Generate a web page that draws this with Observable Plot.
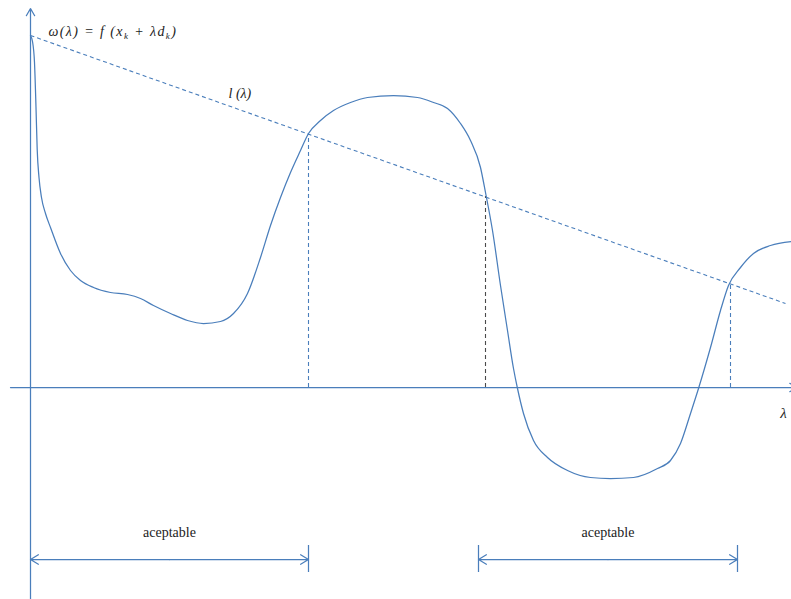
<!DOCTYPE html>
<html>
<head>
<meta charset="utf-8">
<script src="https://cdn.jsdelivr.net/npm/d3@7"></script>
<script src="https://cdn.jsdelivr.net/npm/@observablehq/plot@0.6"></script>
<style>
  body { margin: 0; background: #fff; }
  #chart svg { display: block; }
  #chart svg text { font-family: "Liberation Serif", "DejaVu Serif", serif; }
</style>
</head>
<body>
<div id="chart"></div>
<script>
// ω(λ) = f(x_k + λ d_k) sampled along the step length λ
const curveLambda = [0, 0.02, 0.04, 0.055, 0.067, 0.085, 0.11, 0.15, 0.20, 0.30, 0.40, 0.50, 0.63, 0.80, 0.97, 1.10, 1.23, 1.40, 1.57, 1.73, 1.90, 2.03, 2.17, 2.30, 2.40, 2.50, 2.60, 2.70, 2.78, 2.90, 3.03, 3.20, 3.37, 3.63, 3.87, 4.03, 4.17, 4.30, 4.40, 4.50, 4.55, 4.62, 4.70, 4.77, 4.83, 4.87, 4.93, 5.03, 5.17, 5.37, 5.60, 5.80, 6.03, 6.27, 6.40, 6.50, 6.60, 6.68, 6.80, 6.90, 6.98, 7.10, 7.23, 7.40, 7.61];
const curveOmega  = [3.52, 3.46, 3.25, 2.80, 2.38, 2.10, 1.90, 1.74, 1.60, 1.34, 1.17, 1.07, 1.00, 0.95, 0.93, 0.89, 0.82, 0.74, 0.67, 0.64, 0.66, 0.74, 0.94, 1.30, 1.62, 1.90, 2.15, 2.37, 2.54, 2.67, 2.77, 2.85, 2.90, 2.92, 2.90, 2.85, 2.79, 2.64, 2.47, 2.20, 1.95, 1.57, 1.02, 0.57, 0.19, -0.01, -0.26, -0.53, -0.70, -0.83, -0.90, -0.91, -0.90, -0.81, -0.73, -0.56, -0.26, -0.01, 0.40, 0.77, 1.02, 1.20, 1.34, 1.42, 1.46];

// Secant line l(λ)
const secantLambda = [0, 7.55];
const secantOmega  = [3.52, 0.84];

// Points where ω(λ) meets l(λ)
const crossLambda = [2.78, 4.55, 7.00];
const crossOmega  = [2.53, 1.91, 1.03];
const crossColor  = ["#4a7ebb", "#4a4a4a", "#4a7ebb"];

// Acceptable step intervals
const intervalStart = [0, 4.48];
const intervalEnd   = [2.78, 7.07];
const intervalLabel = ["aceptable", "aceptable"];
const intervalLevel = -1.72;
const intervalTicks = [2.78, 4.48, 7.07];

// Text labels
const eqParts = [["ω(λ) = f (x", false], ["k", true], [" + λd", false], ["k", true], [")", false]];
const lineLabel = "l (λ)";
const axisLabel = "λ";

const blue = "#4a7ebb";
const serif = "Liberation Serif";

const curve = curveLambda.map((x, i) => ({x, y: curveOmega[i]}));
const secant = [{x1: secantLambda[0], y1: secantOmega[0], x2: secantLambda[1], y2: secantOmega[1]}];
const crossings = crossLambda.map((x, i) => ({x, y: crossOmega[i], c: crossColor[i]}));
const intervals = intervalStart.map((a, i) => ({a, b: intervalEnd[i], mid: (a + intervalEnd[i]) / 2, label: intervalLabel[i]}));
const halfArrows = intervals.flatMap(d => [{from: d.mid, to: d.a}, {from: d.mid, to: d.b}]);

const eqText = eqParts.map(p => p[0]).join("");

const chart = Plot.plot({
  width: 791,
  height: 599,
  margin: 0,
  x: {domain: [-0.3, 7.61], axis: null},
  y: {domain: [-2.12, 3.87], axis: null},
  marks: [
    // coordinate axes with arrowheads
    Plot.arrow([{x1: -0.2, y1: 0, x2: 7.665, y2: 0}], {x1: "x1", y1: "y1", x2: "x2", y2: "y2", stroke: blue, strokeWidth: 1.25, headLength: 10}),
    Plot.arrow([{x1: 0, y1: -2.2, x2: 0, y2: 3.79}], {x1: "x1", y1: "y1", x2: "x2", y2: "y2", stroke: blue, strokeWidth: 1.25, headLength: 10}),
    // secant l(λ)
    Plot.link(secant, {x1: "x1", y1: "y1", x2: "x2", y2: "y2", stroke: blue, strokeWidth: 1.1, strokeDasharray: "4,3"}),
    // drop lines from crossings to the λ axis
    Plot.ruleX(crossings, {x: "x", y1: 0, y2: "y", stroke: "c", strokeWidth: 1.1, strokeDasharray: "4,3"}),
    // the function itself
    Plot.line(curve, {x: "x", y: "y", stroke: blue, strokeWidth: 1.25, curve: "monotone-x"}),
    // acceptable intervals: double-headed arrows and end ticks
    Plot.arrow(halfArrows, {x1: "from", y1: intervalLevel, x2: "to", y2: intervalLevel, stroke: blue, strokeWidth: 1.25, headLength: 11, headAngle: 62}),
    Plot.ruleX(intervalTicks, {x: d => d, y1: -1.58, y2: -1.85, stroke: blue, strokeWidth: 1.25}),
    Plot.text(intervals, {x: "mid", y: -1.45, text: "label", fontFamily: serif, fontSize: 14, fill: "#222"}),
    // labels
    Plot.text([eqText], {x: 0.18, y: 3.56, text: d => d, textAnchor: "start", fontFamily: serif, fontSize: 14, fontStyle: "italic", fill: "#222"}),
    Plot.text([lineLabel], {x: 1.98, y: 2.94, text: d => d, textAnchor: "start", fontFamily: serif, fontSize: 14, fontStyle: "italic", fill: "#222"}),
    Plot.text([axisLabel], {x: 7.53, y: -0.26, text: d => d, fontFamily: serif, fontSize: 15, fontStyle: "italic", fill: "#222"})
  ]
});

// Set the subscripts of the equation label
d3.select(chart).selectAll("text").filter(function () { return this.textContent === eqText; }).each(function () {
  const t = d3.select(this);
  t.text(null).attr("letter-spacing", 1.4);
  eqParts.forEach(([s, sub]) => {
    const span = t.append("tspan").text(s);
    if (sub) span.attr("font-size", 9).attr("baseline-shift", "-30%");
  });
});

document.getElementById("chart").appendChild(chart);
</script>
</body>
</html>
